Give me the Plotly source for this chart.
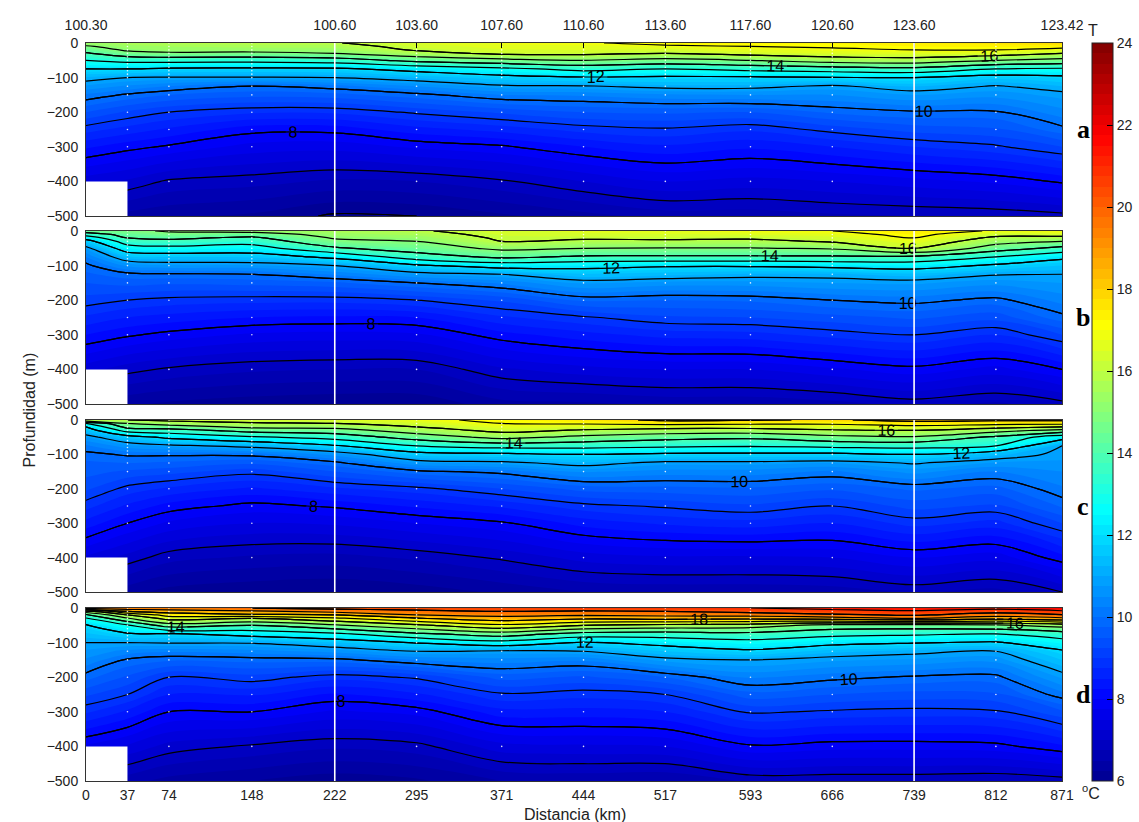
import plotly.graph_objects as go

# ---------------- data ----------------
stations = [0, 37, 74, 148, 222, 295, 371, 444, 517, 593, 666, 739, 812, 871]
depths = [0, 10, 20, 30, 50, 75, 100, 125, 150, 200, 250, 300, 400, 500]

top_tick_km = [0, 222, 295, 371, 444, 517, 593, 666, 739, 871]
top_tick_labels = ["100.30", "100.60", "103.60", "107.60", "110.60",
                   "113.60", "117.60", "120.60", "123.60", "123.42"]

# temperature profiles (one row per station, values at `depths`)
temp_a = [
    [15.4, 14.9, 14.4, 13.9, 13.0, 12.0, 11.2, 10.7, 10.2, 9.5, 8.85, 8.3, 7.35, 6.5],
    [15.6, 15.4, 15.15, 14.65, 13.3, 12.0, 11.0, 10.45, 9.95, 9.2, 8.65, 8.1, 7.2, 6.4],
    [15.8, 15.5, 15.3, 14.85, 13.35, 11.85, 10.95, 10.25, 9.75, 9.0, 8.45, 7.95, 6.95, 6.3],
    [15.9, 15.6, 15.3, 14.8, 13.3, 11.8, 10.95, 9.98, 9.6, 8.8, 8.1, 7.65, 6.85, 6.2],
    [15.95, 15.65, 15.35, 15.0, 13.5, 11.85, 11.0, 10.15, 9.65, 8.8, 8.1, 7.6, 6.7, 5.95],
    [16.5, 16.3, 16.1, 15.65, 14.3, 12.3, 11.3, 10.5, 9.9, 9.05, 8.4, 7.8, 6.75, 6.0],
    [16.8, 16.65, 16.45, 16.2, 14.7, 12.75, 11.7, 10.9, 10.25, 9.3, 8.6, 7.95, 6.95, 6.2],
    [16.9, 16.7, 16.5, 16.2, 15.0, 13.3, 11.9, 10.95, 10.3, 9.5, 8.85, 8.25, 7.25, 6.4],
    [17.3, 16.8, 16.4, 16.0, 14.7, 13.0, 11.85, 11.15, 10.45, 9.55, 8.95, 8.45, 7.5, 6.6],
    [17.3, 17.0, 16.7, 16.35, 15.0, 13.3, 11.85, 11.15, 10.5, 9.5, 8.8, 8.3, 7.4, 6.6],
    [17.3, 17.1, 16.85, 16.5, 15.5, 13.5, 11.95, 10.9, 10.5, 9.8, 9.1, 8.5, 7.5, 6.7],
    [17.5, 17.25, 17.0, 16.6, 15.6, 13.7, 12.0, 11.3, 10.75, 9.95, 9.35, 8.75, 7.65, 6.75],
    [17.6, 17.3, 17.0, 16.5, 15.0, 13.0, 11.6, 10.95, 10.6, 9.95, 9.45, 8.95, 7.8, 6.8],
    [17.9, 17.3, 16.7, 16.0, 14.7, 12.85, 11.8, 11.25, 10.85, 10.4, 9.9, 9.25, 8.05, 6.9],
]
temp_b = [
    [14.5, 13.4, 12.4, 11.6, 10.8, 10.25, 9.9, 9.7, 9.5, 9.15, 8.7, 8.25, 7.35, 6.5],
    [14.8, 14.4, 14.0, 13.5, 12.5, 11.4, 10.55, 9.9, 9.6, 9.0, 8.5, 8.05, 7.1, 6.3],
    [15.1, 14.7, 14.2, 13.7, 12.7, 11.5, 10.7, 9.95, 9.55, 8.9, 8.4, 7.9, 6.95, 6.2],
    [15.3, 14.5, 13.8, 13.4, 12.55, 11.55, 10.7, 10.0, 9.6, 8.85, 8.25, 7.7, 6.8, 6.1],
    [15.6, 15.35, 15.1, 14.75, 13.85, 12.2, 11.0, 10.3, 9.7, 8.85, 8.2, 7.65, 6.75, 6.05],
    [15.9, 15.6, 15.3, 15.0, 14.5, 13.5, 11.85, 10.75, 10.0, 9.0, 8.25, 7.7, 6.75, 6.05],
    [16.4, 16.3, 16.15, 16.0, 15.2, 14.2, 12.4, 11.0, 10.3, 9.3, 8.7, 8.15, 7.2, 6.4],
    [16.6, 16.4, 16.15, 15.8, 15.0, 13.85, 12.3, 11.45, 10.8, 9.8, 8.95, 8.4, 7.4, 6.45],
    [16.7, 16.45, 16.2, 15.8, 14.95, 13.85, 12.1, 11.35, 10.65, 9.75, 9.2, 8.6, 7.5, 6.55],
    [16.9, 16.55, 16.15, 15.75, 14.95, 13.85, 12.1, 11.2, 10.65, 9.8, 9.25, 8.65, 7.5, 6.55],
    [17.0, 16.7, 16.4, 16.1, 15.1, 13.85, 12.25, 11.2, 10.75, 10.0, 9.4, 8.85, 7.7, 6.65],
    [17.5, 17.25, 17.0, 16.7, 16.1, 13.8, 12.4, 11.4, 10.8, 10.1, 9.55, 9.0, 7.9, 6.85],
    [16.9, 16.3, 15.8, 15.4, 14.5, 13.0, 11.85, 11.05, 10.6, 9.9, 9.35, 8.75, 7.65, 6.7],
    [17.0, 16.4, 15.7, 15.0, 13.7, 12.2, 11.5, 11.0, 10.75, 10.35, 9.9, 9.25, 8.0, 6.9],
]
temp_c = [
    [16.0, 13.0, 12.0, 11.5, 10.75, 10.2, 9.9, 9.7, 9.6, 9.3, 8.85, 8.4, 7.45, 6.6],
    [16.0, 15.0, 14.3, 13.4, 11.6, 10.65, 10.05, 9.75, 9.45, 8.9, 8.45, 8.0, 7.15, 6.35],
    [16.2, 15.5, 14.5, 13.6, 12.2, 10.85, 10.05, 9.7, 9.35, 8.7, 8.15, 7.7, 6.85, 6.15],
    [16.3, 15.9, 15.25, 14.4, 12.85, 11.2, 10.1, 9.55, 9.1, 8.45, 7.9, 7.5, 6.7, 6.05],
    [16.5, 16.0, 15.3, 14.6, 13.35, 11.9, 10.6, 9.9, 9.5, 8.7, 8.05, 7.55, 6.65, 6.0],
    [16.8, 16.4, 16.0, 15.5, 14.45, 13.0, 11.65, 10.7, 9.9, 8.9, 8.3, 7.75, 6.8, 6.1],
    [17.2, 17.0, 16.65, 16.3, 15.3, 13.4, 11.8, 10.85, 10.1, 9.25, 8.55, 7.95, 7.05, 6.3],
    [17.6, 17.1, 16.5, 15.9, 14.75, 13.35, 12.0, 11.2, 10.55, 9.6, 8.9, 8.35, 7.35, 6.5],
    [18.2, 17.3, 16.4, 15.65, 14.35, 13.2, 11.85, 10.85, 10.4, 9.65, 9.05, 8.55, 7.45, 6.55],
    [18.1, 17.2, 16.35, 15.6, 14.2, 13.1, 11.8, 10.85, 10.4, 9.7, 9.2, 8.65, 7.45, 6.55],
    [17.9, 17.15, 16.5, 15.9, 14.7, 13.25, 11.8, 10.75, 10.2, 9.55, 9.0, 8.5, 7.5, 6.6],
    [18.3, 17.5, 16.7, 16.0, 14.9, 13.35, 12.0, 11.05, 10.6, 9.8, 9.35, 8.85, 7.75, 6.8],
    [18.2, 17.3, 16.35, 15.4, 13.8, 13.0, 11.35, 10.7, 10.25, 9.65, 9.2, 8.65, 7.6, 6.65],
    [18.2, 17.3, 16.0, 14.7, 12.4, 11.0, 10.85, 10.7, 10.5, 10.2, 9.8, 9.25, 8.15, 7.0],
]
temp_d = [
    [19.5, 15.5, 13.8, 12.9, 11.9, 11.45, 11.0, 10.7, 10.45, 9.85, 9.3, 8.8, 7.7, 6.75],
    [19.6, 18.0, 16.0, 14.9, 12.9, 11.9, 11.0, 10.4, 9.95, 9.45, 9.0, 8.45, 7.45, 6.6],
    [19.6, 18.45, 17.4, 16.4, 14.5, 11.9, 11.05, 10.3, 9.8, 9.0, 8.5, 8.0, 7.15, 6.4],
    [20.0, 18.8, 17.8, 16.0, 14.0, 12.35, 11.05, 10.4, 9.85, 9.15, 8.55, 8.0, 6.95, 6.25],
    [20.3, 19.3, 18.0, 16.8, 14.85, 12.8, 11.45, 10.6, 9.9, 8.85, 8.2, 7.7, 6.8, 6.1],
    [20.5, 19.7, 19.0, 17.9, 15.8, 13.8, 12.05, 11.0, 10.25, 9.05, 8.45, 7.85, 6.9, 6.2],
    [20.6, 20.0, 19.3, 18.55, 16.8, 14.5, 12.6, 10.9, 10.4, 9.6, 8.95, 8.4, 7.4, 6.5],
    [20.8, 19.85, 19.15, 18.2, 16.0, 13.6, 11.9, 11.0, 10.3, 9.45, 8.85, 8.4, 7.45, 6.55],
    [20.8, 20.0, 19.3, 18.35, 15.7, 13.5, 12.3, 11.5, 10.85, 9.75, 9.0, 8.5, 7.5, 6.5],
    [21.0, 20.3, 19.4, 18.25, 15.5, 13.7, 12.65, 11.85, 11.0, 10.3, 9.65, 9.05, 7.95, 6.8],
    [21.3, 20.6, 19.8, 18.5, 14.6, 13.3, 12.25, 11.35, 10.8, 10.1, 9.5, 8.95, 7.85, 6.8],
    [21.5, 20.85, 20.15, 19.0, 14.6, 13.15, 12.05, 11.15, 10.7, 9.95, 9.4, 8.9, 7.85, 6.8],
    [21.3, 20.45, 19.4, 18.4, 14.8, 13.0, 11.9, 11.0, 10.6, 9.9, 9.45, 8.95, 7.9, 6.75],
    [21.8, 20.8, 19.9, 18.8, 15.4, 13.5, 12.6, 11.9, 11.5, 10.8, 10.15, 9.45, 8.2, 6.85],
]

# sampling stations (white dots) and their deepest sample
dot_stations = [37, 74, 148, 295, 371, 444, 517, 593, 666, 812]
dot_max_depth = [300, 400, 400, 400, 400, 400, 400, 400, 400, 400]
dot_depths = [0, 10, 20, 30, 40, 50, 60, 70, 80, 90, 100, 125, 150, 200, 250, 300, 400]

section_lines_km = [222, 739]
panel_letters = ["a", "b", "c", "d"]
colorbar_ticks = [6, 8, 10, 12, 14, 16, 18, 20, 22, 24]

# ---------------- styling ----------------
jet = [[0.0, "rgb(0,0,143)"], [0.111, "rgb(0,0,255)"], [0.365, "rgb(0,255,255)"],
       [0.619, "rgb(255,255,0)"], [0.873, "rgb(255,0,0)"], [1.0, "rgb(128,0,0)"]]

W, H = 1139, 822
ML, MR, MT, MB = 86, 77, 43, 41
PH = H - MT - MB  # plot height in px
PW = W - ML - MR

def py(px):  # pixel y -> paper y
    return (H - MB - px) / PH

def px_(x):  # pixel x -> paper x
    return (x - ML) / PW

panel_px = [(43, 216), (231, 404), (420, 592), (608, 781)]
domains = [[py(b), py(t)] for (t, b) in panel_px]

FONT = "Liberation Sans, Arial, sans-serif"
fig = go.Figure()

temps = [temp_a, temp_b, temp_c, temp_d]
neg_depths = [-d for d in depths]

for i, T in enumerate(temps):
    xa = "x" if i == 0 else f"x{i+1}"
    ya = "y" if i == 0 else f"y{i+1}"
    z = [[T[s][k] for s in range(len(stations))] for k in range(len(depths))]
    fill = go.Contour(
        x=stations, y=neg_depths, z=z, xaxis=xa, yaxis=ya,
        colorscale=jet, zmin=6, zmax=24, zauto=False,
        contours=dict(start=6, end=24, size=0.25, coloring="fill"),
        line=dict(width=0), hoverinfo="skip",
        showscale=(i == 0),
        colorbar=dict(x=px_(1092), xanchor="left", xpad=0, ypad=0,
                      y=0.5, yanchor="middle", len=1, lenmode="fraction",
                      thickness=21, thicknessmode="pixels",
                      tickvals=colorbar_ticks, ticks="inside", ticklen=6,
                      tickcolor="black", outlinecolor="#222", outlinewidth=1,
                      tickfont=dict(family=FONT, size=14, color="#222")),
    )
    fig.add_trace(fill)
    lines = go.Contour(
        x=stations, y=neg_depths, z=z, xaxis=xa, yaxis=ya,
        contours=dict(start=6, end=24, size=1, coloring="none"),
        line=dict(color="black", width=1.2), showscale=False, hoverinfo="skip",
    )
    fig.add_trace(lines)
    labels = go.Contour(
        x=stations, y=neg_depths, z=z, xaxis=xa, yaxis=ya,
        contours=dict(start=6, end=24, size=2, coloring="none", showlabels=True,
                      labelfont=dict(family=FONT, size=16, color="black")),
        line=dict(color="black", width=1.2), showscale=False, hoverinfo="skip",
    )
    fig.add_trace(labels)

    # station sample dots
    dx, dy = [], []
    for s, mx in zip(dot_stations, dot_max_depth):
        for d in dot_depths:
            if d <= mx:
                dx.append(s)
                dy.append(-d)
    fig.add_trace(go.Scatter(x=dx, y=dy, mode="markers", xaxis=xa, yaxis=ya,
                             marker=dict(color="white", size=1.6, opacity=0.85,
                                         line=dict(width=0)),
                             hoverinfo="skip", showlegend=False))

    # white section lines & land box
    for xv in section_lines_km:
        fig.add_shape(type="line", x0=xv, x1=xv, y0=-500, y1=0, xref=xa, yref=ya,
                      line=dict(color="white", width=1.6), layer="above")
    fig.add_shape(type="rect", x0=0, x1=stations[1], y0=-500, y1=-400, xref=xa, yref=ya,
                  fillcolor="white", line=dict(width=0), layer="above")

    # panel letter
    fig.add_annotation(x=px_(1083), y=(domains[i][0] + domains[i][1]) / 2,
                       xref="paper", yref="paper", text=f"<b>{panel_letters[i]}</b>",
                       showarrow=False, xanchor="center", yanchor="middle",
                       font=dict(family="Liberation Serif, Times New Roman, serif",
                                 size=26, color="black"))

axis_common = dict(showline=True, mirror=True, linecolor="#333", linewidth=1,
                   showgrid=False, zeroline=False)
layout = dict(
    width=W, height=H, margin=dict(l=ML, r=MR, t=MT, b=MB, autoexpand=False),
    paper_bgcolor="white", plot_bgcolor="white", showlegend=False,
    font=dict(family=FONT, size=14, color="#222"),
)
for i in range(4):
    xk = "xaxis" if i == 0 else f"xaxis{i+1}"
    yk = "yaxis" if i == 0 else f"yaxis{i+1}"
    ya = "y" if i == 0 else f"y{i+1}"
    xa = "x" if i == 0 else f"x{i+1}"
    xax = dict(axis_common, domain=[0, 1], anchor=ya, range=[0, 871])
    if i == 0:
        xax.update(side="top", tickvals=top_tick_km, ticktext=top_tick_labels,
                   ticks="inside", ticklen=5, tickcolor="black",
                   tickfont=dict(size=14), ticklabelstandoff=6)
    elif i == 3:
        xax.update(tickvals=stations, ticktext=[str(s) for s in stations],
                   ticks="", tickfont=dict(size=14), ticklabelstandoff=1)
    else:
        xax.update(showticklabels=False, ticks="")
    layout[xk] = xax
    layout[yk] = dict(axis_common, domain=domains[i], anchor=xa, range=[-500, 0],
                      tickvals=[0, -100, -200, -300, -400, -500], ticks="",
                      tickfont=dict(size=14), ticklabelstandoff=4)

fig.update_layout(**layout)

fig.add_annotation(x=px_(18), y=py(410), xref="paper", yref="paper",
                   text="Profundidad (m)", textangle=-90, showarrow=False,
                   font=dict(family=FONT, size=16, color="#222"))
fig.add_annotation(x=px_(575), y=py(814), xref="paper", yref="paper",
                   text="Distancia (km)", showarrow=False, yanchor="middle",
                   font=dict(family=FONT, size=16, color="#222"))
fig.add_annotation(x=px_(1100), y=py(20), xref="paper", yref="paper",
                   text="T", showarrow=False,
                   font=dict(family=FONT, size=16, color="#222"))
fig.add_annotation(x=px_(1102), y=py(804), xref="paper", yref="paper",
                   text="<sup>o</sup>C", showarrow=False,
                   font=dict(family=FONT, size=16, color="#222"))

fig.write_html("out.html")
